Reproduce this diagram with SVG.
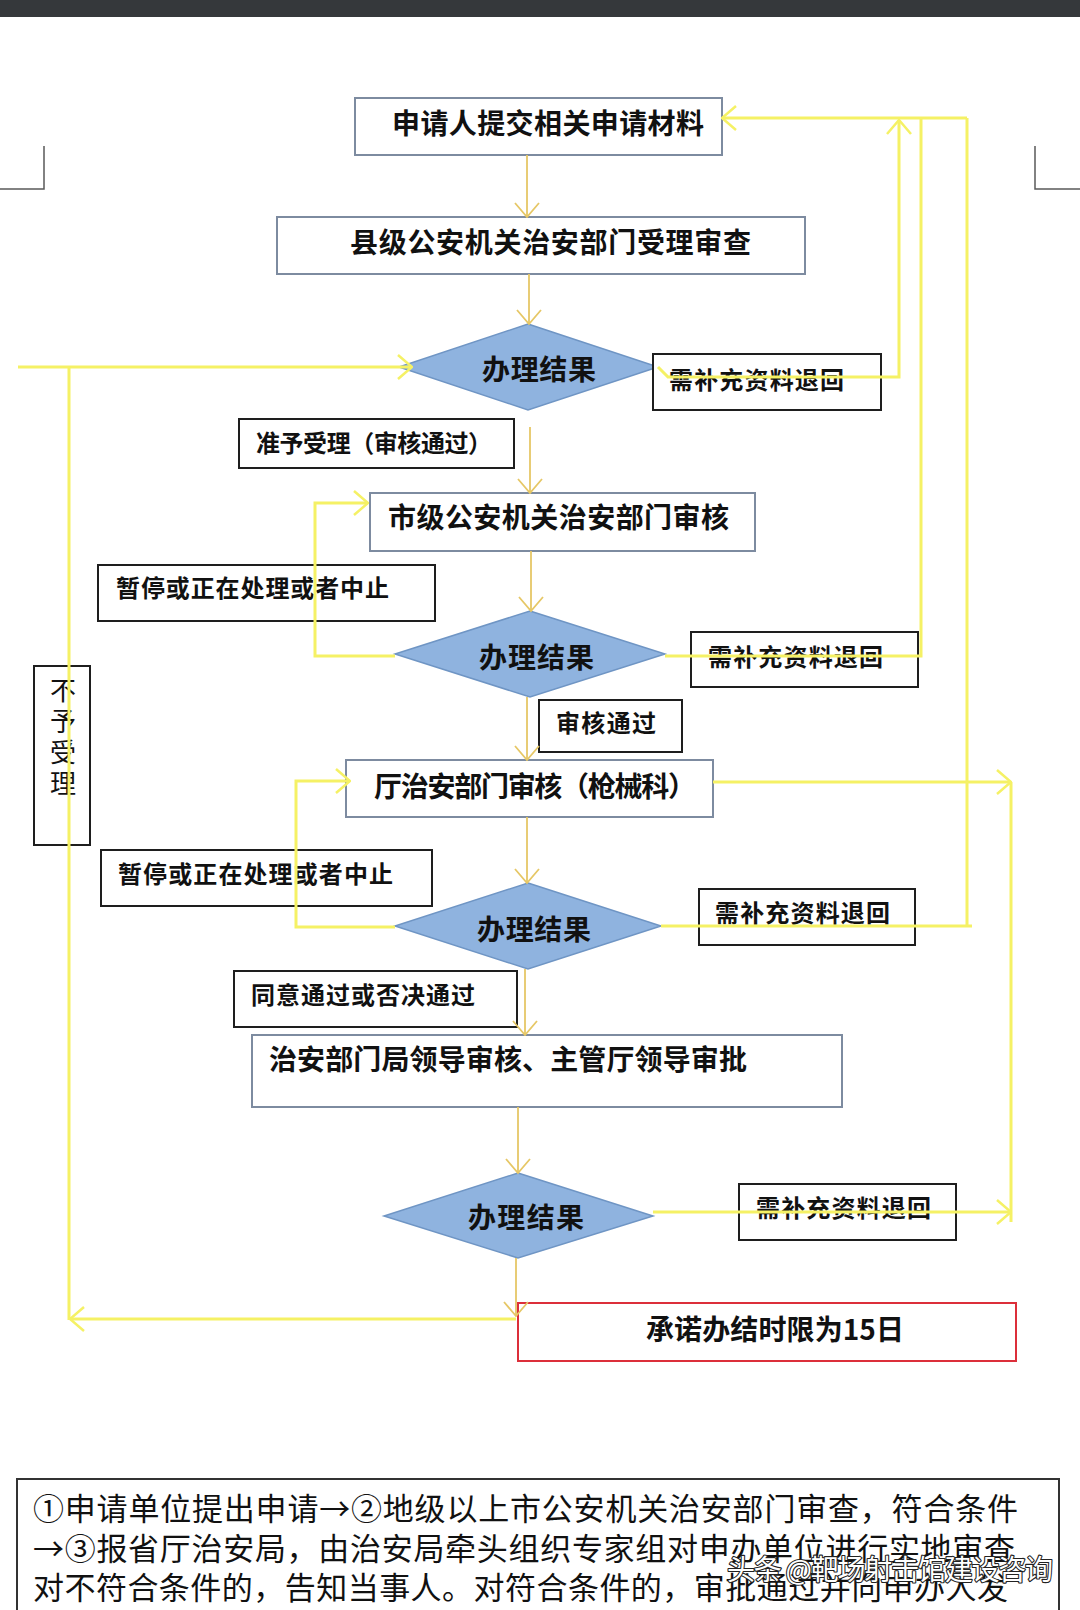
<svg xmlns="http://www.w3.org/2000/svg" width="1080" height="1610" viewBox="0 0 1080 1610">
<defs>
<style>
.main{fill:#fff;stroke:#7d8ba0;stroke-width:2}
.lab{fill:#fff;stroke:#1e1e1e;stroke-width:2}
.dia{fill:#8fb3df;stroke:#6f95c4;stroke-width:1.5}
.red{fill:#fff;stroke:#dc2f3a;stroke-width:2}
.t{font-family:"Noto Sans CJK SC","Noto Sans",sans-serif;fill:#111}
.tb{font-weight:700;font-size:28px}
.tl{font-weight:700;font-size:24px}
.tr{font-weight:400;font-size:26px}
.tn{font-weight:400;font-size:31px}
.g{fill:none;stroke:#e6c766;stroke-width:1.8}
.y{fill:none;stroke:#f5f165;stroke-width:3}
.wm{font-family:"Noto Sans CJK SC","Noto Sans",sans-serif;font-size:28px;fill:#fff;stroke:#222;stroke-width:2.2;paint-order:stroke;stroke-linejoin:round}
</style>
<marker id="ag" markerUnits="userSpaceOnUse" viewBox="0 0 16 26" refX="15" refY="13" markerWidth="16" markerHeight="26" orient="auto">
<path d="M1,1 L15,13 L1,25" fill="none" stroke="#e6c766" stroke-width="1.8"/>
</marker>
<marker id="ay" markerUnits="userSpaceOnUse" viewBox="0 0 16 26" refX="15" refY="13" markerWidth="16" markerHeight="26" orient="auto">
<path d="M1,1 L15,13 L1,25" fill="none" stroke="#f5f165" stroke-width="2.5"/>
</marker>
</defs>
<rect x="0" y="0" width="1080" height="1610" fill="#fff"/>
<g id="topbar">
<rect x="0" y="0" width="1080" height="17" fill="#35383b"/>
<path d="M44,146 V189 H0 M1035,146 V189 H1080" fill="none" stroke="#5a5a5a" stroke-width="1.5"/>
</g>
<g id="n1"><rect class="main" x="355" y="98" width="367" height="57"/><text class="t tb" x="392" y="134" textLength="312">申请人提交相关申请材料</text></g>
<g id="n2"><rect class="main" x="277" y="217" width="528" height="57"/><text class="t tb" x="350" y="253" textLength="401">县级公安机关治安部门受理审查</text></g>
<g id="d1"><polygon class="dia" points="528,324 658,367 528,410 399,367"/><text class="t tb" x="482" y="380" textLength="114">办理结果</text></g>
<g id="r1"><rect class="lab" x="653" y="354" width="228" height="56"/><text class="t tl" x="669" y="389" textLength="175">需补充资料退回</text></g>
<g id="l1"><rect class="lab" x="239" y="419" width="275" height="49"/><text class="t tl" x="256" y="452" textLength="236">准予受理（审核通过）</text></g>
<g id="n3"><rect class="main" x="370" y="493" width="385" height="58"/><text class="t tb" x="388" y="528" textLength="341">市级公安机关治安部门审核</text></g>
<g id="p1"><rect class="lab" x="98" y="565" width="337" height="56"/><text class="t tl" x="116" y="597" textLength="273">暂停或正在处理或者中止</text></g>
<g id="d2"><polygon class="dia" points="530,611 665,654 530,697 395,654"/><text class="t tb" x="479" y="668" textLength="115">办理结果</text></g>
<g id="r2"><rect class="lab" x="691" y="632" width="227" height="55"/><text class="t tl" x="708" y="666" textLength="175">需补充资料退回</text></g>
<g id="l2"><rect class="lab" x="539" y="700" width="143" height="52"/><text class="t tl" x="556" y="732" textLength="100">审核通过</text></g>
<g id="no"><rect class="lab" x="34" y="666" width="56" height="179"/>
<text class="t tr" x="63" y="677" style="writing-mode:vertical-rl" letter-spacing="5">不予受理</text></g>
<g id="n4"><rect class="main" x="346" y="760" width="367" height="57"/><text class="t tb" x="374" y="797" textLength="322">厅治安部门审核（枪械科）</text></g>
<g id="p2"><rect class="lab" x="101" y="850" width="331" height="56"/><text class="t tl" x="118" y="883" textLength="275">暂停或正在处理或者中止</text></g>
<g id="d3"><polygon class="dia" points="528,883 661,926 528,969 395,926"/><text class="t tb" x="477" y="940" textLength="114">办理结果</text></g>
<g id="r3"><rect class="lab" x="699" y="889" width="216" height="56"/><text class="t tl" x="715" y="922" textLength="175">需补充资料退回</text></g>
<g id="l3"><rect class="lab" x="234" y="971" width="283" height="56"/><text class="t tl" x="251" y="1004" textLength="224">同意通过或否决通过</text></g>
<g id="n5"><rect class="main" x="252" y="1035" width="590" height="72"/><text class="t tb" x="269" y="1070" textLength="478">治安部门局领导审核、主管厅领导审批</text></g>
<g id="d4"><polygon class="dia" points="518,1173 653,1216 518,1258 384,1216"/><text class="t tb" x="468" y="1228" textLength="116">办理结果</text></g>
<g id="r4"><rect class="lab" x="739" y="1184" width="217" height="56"/><text class="t tl" x="756" y="1217" textLength="175">需补充资料退回</text></g>
<g id="end"><rect class="red" x="518" y="1303" width="498" height="58"/><text class="t tb" x="646" y="1340" textLength="258">承诺办结时限为15日</text></g>
<g id="connectors">
<path class="g" d="M527,155 V217" marker-end="url(#ag)"/>
<path class="g" d="M529,274 V324" marker-end="url(#ag)"/>
<path class="g" d="M530,427 V493" marker-end="url(#ag)"/>
<path class="g" d="M531,551 V611" marker-end="url(#ag)"/>
<path class="g" d="M527,697 V760" marker-end="url(#ag)"/>
<path class="g" d="M527,817 V883" marker-end="url(#ag)"/>
<path class="g" d="M525,969 V1035" marker-end="url(#ag)"/>
<path class="g" d="M518,1107 V1173" marker-end="url(#ag)"/>
<path class="g" d="M516,1258 V1316" marker-end="url(#ag)"/>
<path class="y" d="M516,1319 H70" marker-end="url(#ay)"/>
<path class="y" d="M69,1320 V367"/>
<path class="y" d="M18,367 H412" marker-end="url(#ay)"/>
<path class="y" d="M658,367 L668,377 H899 V120" marker-end="url(#ay)"/>
<path class="y" d="M967,118 H722" marker-end="url(#ay)"/>
<path class="y" d="M665,656 H921 V118"/>
<path class="y" d="M661,926 H972 M967,926 V118"/>
<path class="y" d="M713,782 H1011" marker-end="url(#ay)"/>
<path class="y" d="M1011,782 V1222"/>
<path class="y" d="M653,1212 H1011" marker-end="url(#ay)"/>
<path class="y" d="M395,656 H315 V503 H368" marker-end="url(#ay)"/>
<path class="y" d="M395,927 H296 V781 H350" marker-end="url(#ay)"/>
</g>
<g id="note">
<rect x="17" y="1479" width="1042" height="150" fill="#fff" stroke="#333" stroke-width="2"/>
<text class="t tn" x="33" y="1520" textLength="985">①申请单位提出申请→②地级以上市公安机关治安部门审查，符合条件</text>
<text class="t tn" x="33" y="1560" textLength="982">→③报省厅治安局，由治安局牵头组织专家组对申办单位进行实地审查</text>
<text class="t tn" x="33" y="1599" textLength="975">对不符合条件的，告知当事人。对符合条件的，审批通过并向申办人发</text>
<text class="wm" x="727" y="1580" textLength="326">头条 @靶场射击馆建设咨询</text>
</g>
</svg>
